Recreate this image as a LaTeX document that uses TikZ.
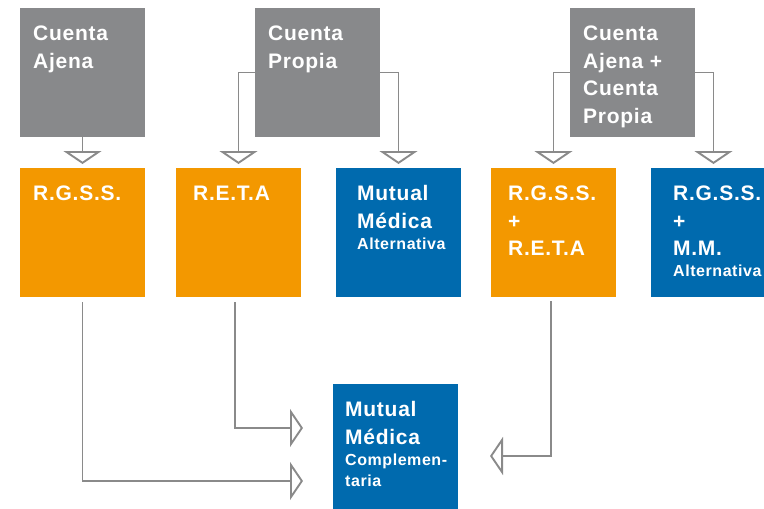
\documentclass[tikz,border=0pt]{standalone}
\usepackage{fontspec}
\setmainfont[LetterSpace=3.5]{Liberation Sans}
\usetikzlibrary{arrows.meta}
\definecolor{boxgray}{RGB}{136,137,139}
\definecolor{boxorange}{RGB}{243,152,0}
\definecolor{boxblue}{RGB}{0,106,174}
\definecolor{linegray}{RGB}{138,138,138}
\newcommand\smlfont{\fontsize{16}{21}\selectfont}
\begin{document}
\begin{tikzpicture}[x=1pt,y=-1pt,
  box/.style={minimum width=125pt, minimum height=129pt, inner sep=0pt, outer sep=0pt, anchor=north west, draw=none},
  graybox/.style={box, fill=boxgray},
  orangebox/.style={box, fill=boxorange},
  bluebox/.style={box, fill=boxblue},
  lbl/.style={font=\fontsize{21}{27.5}\selectfont\bfseries, text=white, align=left, anchor=north west, inner sep=0pt},
  conn/.style={draw=linegray, line width=1.9pt, -{Triangle[open, length=13pt, width=38pt]}}
]
\useasboundingbox (0,0) rectangle (764,509);
% boxes
\node[graybox] (ga) at (20,8) {};
\node[graybox] (gp) at (255,8) {};
\node[graybox] (gc) at (570,8) {};
\node[orangebox] (rg) at (20,168) {};
\node[orangebox] (re) at (176,168) {};
\node[bluebox] (ma) at (336,168) {};
\node[orangebox] (rr) at (491,168) {};
\node[bluebox] (rm) at (651,168) {};
\node[bluebox] (mc) at (333,384) {};
% labels
\node[lbl] (tga) at (33,21.25) {\strut Cuenta\\Ajena};
\node[lbl] (tgp) at (268,21.25) {\strut Cuenta\\Propia};
\node[lbl] (tgc) at (583,21.25) {\strut Cuenta\\Ajena +\\Cuenta\\Propia};
\node[lbl] (trg) at (33,181.25) {\strut R.G.S.S.};
\node[lbl] (tre) at (193,181.25) {\strut R.E.T.A};
\node[lbl] (tma) at (357,181.25) {\strut Mutual\\Médica\\[-6.5pt]\smlfont Alternativa};
\node[lbl] (trr) at (508,181.25) {\strut R.G.S.S.\\+\\R.E.T.A};
\node[lbl] (trm) at (673,181.25) {\strut R.G.S.S.\\+\\M.M.\\[-6.5pt]\smlfont Alternativa};
\node[lbl] (tmc) at (345,397.25) {\strut Mutual\\Médica\\[-6.5pt]\smlfont Complemen-\\[-6.5pt]\smlfont taria};
% connectors top
\draw[conn, shorten >=4pt] (ga.south) -- (rg.north);
\draw[conn, shorten >=4pt] (gp.west) -| (re.north);
\draw[conn, shorten >=4pt] (gp.east) -| (ma.north);
\draw[conn, shorten >=4pt] (gc.west) -| (rr.north);
\draw[conn, shorten >=4pt] (gc.east) -| (rm.north);
% connectors bottom
\coordinate (t1) at (303,481);
\coordinate (t2) at (303,428);
\coordinate (t3) at (490,456);
\draw[conn, shorten <=5pt] (rg.south) |- (t1);
\draw[conn, shorten <=5pt] ([xshift=-3.5pt]re.south) |- (t2);
\draw[conn, shorten <=4pt] ([xshift=-2.5pt]rr.south) |- (t3);
\end{tikzpicture}
\end{document}
